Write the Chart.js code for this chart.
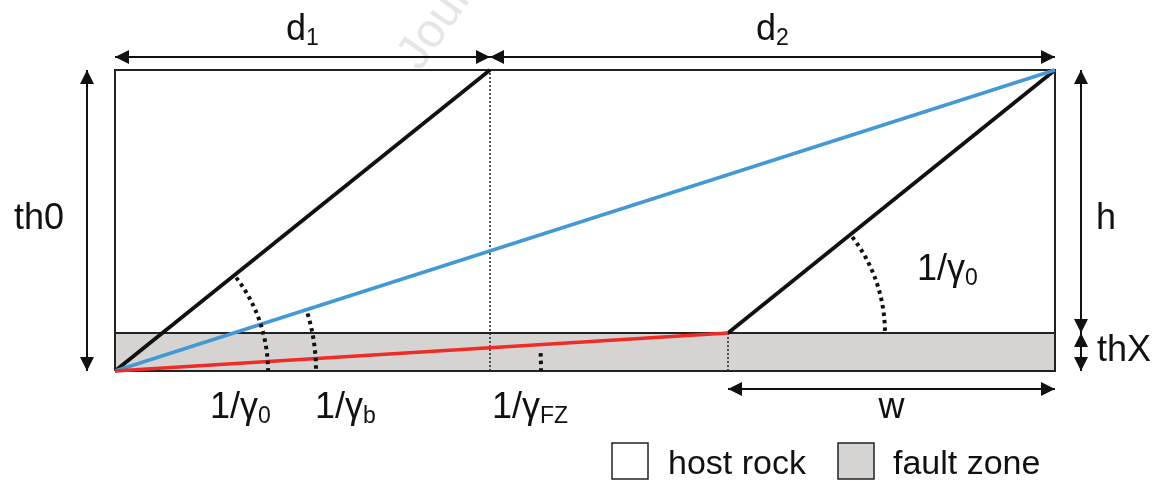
<!DOCTYPE html>
<html>
<head>
<meta charset="utf-8">
<script src="https://cdn.jsdelivr.net/npm/chart.js@4.4.1/dist/chart.umd.min.js"></script>
<style>
  html, body { margin: 0; padding: 0; background: #fff; }
  #wrap { width: 1162px; height: 481px; position: relative; }
</style>
</head>
<body>
<div id="wrap"><canvas id="sketch"></canvas></div>
<script>
// geometry (in pixel-like units)
var spanNames = ['d1', 'd2'];
var spans = [375, 565];            // d1, d2
var layerNames = ['thX', 'h'];
var layers = [38, 263];            // fault zone thickness, host rock thickness
var wLen = 327;                    // w
var arcRadius = [153, 201, 426, 157];   // 1/γ0, 1/γb, 1/γFZ, 1/γ0 (right)
var legendNames = ['host rock', 'fault zone'];

var total = spans[0] + spans[1];
var thX = layers[0];
var th0 = layers[0] + layers[1];
var kinkX = total - wLen;

var FONT = '"Liberation Sans", Arial, sans-serif';
var GRAY = '#d5d4d2';
var BLUE = '#4499d4';
var RED = '#ee2b26';
var INK = '#111';

function seg(pts, color, width, order, dash) {
  return {
    data: pts,
    showLine: true,
    borderColor: color,
    borderWidth: width,
    borderDash: dash || [],
    pointRadius: 0,
    fill: false,
    clip: false,
    order: order
  };
}

var datasets = [
  // red, blue, black lines on top
  seg([{x: 0, y: 0}, {x: kinkX, y: thX}], RED, 3.5, 1),
  seg([{x: 0, y: 0}, {x: total, y: th0}], BLUE, 3.5, 2),
  seg([{x: 0, y: 0}, {x: spans[0], y: th0}], INK, 3.8, 3),
  seg([{x: kinkX, y: thX}, {x: total, y: th0}], INK, 3.8, 3),
  // dotted guides
  seg([{x: spans[0], y: 0}, {x: spans[0], y: th0}], '#222', 1.5, 5, [2, 2]),
  seg([{x: kinkX, y: 0}, {x: kinkX, y: thX}], '#222', 1.5, 5, [2, 2]),
  // box outline and fault zone top
  seg([{x: 0, y: 0}, {x: total, y: 0}, {x: total, y: th0}, {x: 0, y: th0}, {x: 0, y: 0}], '#222', 2, 6),
  seg([{x: 0, y: thX}, {x: total, y: thX}], '#222', 2, 6),
  // fault zone fill
  {
    data: [{x: 0, y: 0}, {x: total, y: 0}],
    showLine: true,
    borderWidth: 0,
    borderColor: 'rgba(0,0,0,0)',
    backgroundColor: GRAY,
    pointRadius: 0,
    fill: {value: thX},
    clip: false,
    order: 10
  }
];

function arrowHead(ctx, x, y, ang) {
  var L = 14, W = 7;
  ctx.beginPath();
  ctx.moveTo(x, y);
  ctx.lineTo(x - L * Math.cos(ang) + W * Math.sin(ang), y - L * Math.sin(ang) - W * Math.cos(ang));
  ctx.lineTo(x - L * Math.cos(ang) - W * Math.sin(ang), y - L * Math.sin(ang) + W * Math.cos(ang));
  ctx.closePath();
  ctx.fill();
}

function dimArrow(ctx, x1, y1, x2, y2) {
  var ang = Math.atan2(y2 - y1, x2 - x1);
  ctx.beginPath();
  ctx.moveTo(x1, y1);
  ctx.lineTo(x2, y2);
  ctx.stroke();
  arrowHead(ctx, x2, y2, ang);
  arrowHead(ctx, x1, y1, ang + Math.PI);
}

function subText(ctx, main, sub, x, y, align, size) {
  size = size || 36;
  var subSize = Math.round(size * 0.64);
  ctx.font = size + 'px ' + FONT;
  var mw = ctx.measureText(main).width;
  ctx.font = subSize + 'px ' + FONT;
  var sw = sub ? ctx.measureText(sub).width : 0;
  var w = mw + sw;
  var left = align === 'center' ? x - w / 2 : (align === 'right' ? x - w : x);
  ctx.textAlign = 'left';
  ctx.textBaseline = 'alphabetic';
  ctx.font = size + 'px ' + FONT;
  ctx.fillText(main, left, y);
  if (sub) {
    ctx.font = subSize + 'px ' + FONT;
    ctx.fillText(sub, left + mw, y + 5);
  }
}

var sketchPlugin = {
  id: 'sketch',
  beforeDraw: function(chart) {
    var ctx = chart.ctx;
    ctx.save();
    ctx.translate(420, 72);
    ctx.rotate(-55 * Math.PI / 180);
    ctx.font = '48px ' + FONT;
    ctx.fillStyle = '#e6e6e6';
    ctx.fillText('Journal Pre-proof', 0, 0);
    ctx.restore();
  },
  afterDatasetsDraw: function(chart) {
    var ctx = chart.ctx;
    var xs = chart.scales.x, ys = chart.scales.y;
    var px = function(v) { return xs.getPixelForValue(v); };
    var py = function(v) { return ys.getPixelForValue(v); };
    var unit = px(1) - px(0);

    // dotted angle arcs
    var arcs = [
      {cx: 0, cy: 0, tx: spans[0], ty: th0, r: arcRadius[0]},
      {cx: 0, cy: 0, tx: total, ty: th0, r: arcRadius[1]},
      {cx: 0, cy: 0, tx: kinkX, ty: thX, r: arcRadius[2]},
      {cx: kinkX, cy: thX, tx: total, ty: th0, r: arcRadius[3]}
    ];
    ctx.save();
    ctx.strokeStyle = INK;
    ctx.lineWidth = 4;
    ctx.setLineDash([3.5, 4]);
    arcs.forEach(function(a) {
      var cx = px(a.cx), cy = py(a.cy);
      var ang = Math.atan2(py(a.ty) - cy, px(a.tx) - cx);
      ctx.beginPath();
      ctx.arc(cx, cy, a.r * unit, ang + 0.02, 0);
      ctx.stroke();
    });
    ctx.restore();

    // dimension arrows
    ctx.save();
    ctx.strokeStyle = INK;
    ctx.fillStyle = INK;
    ctx.lineWidth = 2;
    var topY = py(th0) - 13;
    dimArrow(ctx, px(0), topY, px(spans[0]), topY);
    dimArrow(ctx, px(spans[0]), topY, px(total), topY);
    dimArrow(ctx, px(0) - 28, py(0), px(0) - 28, py(th0));
    dimArrow(ctx, px(total) + 26, py(thX), px(total) + 26, py(th0));
    dimArrow(ctx, px(total) + 26, py(thX), px(total) + 26, py(0));
    var wy = py(0) + 18;
    dimArrow(ctx, px(kinkX), wy, px(total), wy);

    // labels
    subText(ctx, 'd', '1', (px(0) + px(spans[0])) / 2, 40, 'center');
    subText(ctx, 'd', '2', (px(spans[0]) + px(total)) / 2, 40, 'center');
    subText(ctx, 'th0', '', 64, 229, 'right');
    subText(ctx, 'h', '', 1096, 229, 'left');
    subText(ctx, 'thX', '', 1097, 361, 'left');
    subText(ctx, 'w', '', (px(kinkX) + px(total)) / 2, 418, 'center');
    subText(ctx, '1/γ', '0', 210, 418, 'left');
    subText(ctx, '1/γ', 'b', 315, 418, 'left');
    subText(ctx, '1/γ', 'FZ', 492, 418, 'left');
    subText(ctx, '1/γ', '0', 917, 280, 'left');

    // legend
    ctx.lineWidth = 1.5;
    ctx.strokeStyle = '#222';
    ctx.fillStyle = '#fff';
    ctx.fillRect(612, 443, 36, 36);
    ctx.strokeRect(612, 443, 36, 36);
    ctx.fillStyle = GRAY;
    ctx.fillRect(838, 443, 36, 36);
    ctx.strokeRect(838, 443, 36, 36);
    ctx.fillStyle = INK;
    ctx.font = '34px ' + FONT;
    ctx.textAlign = 'left';
    ctx.fillText(legendNames[0], 668, 474);
    ctx.fillText(legendNames[1], 893, 474);
    ctx.restore();
  }
};

var ctx = document.getElementById('sketch').getContext('2d');
var sketch = new Chart(ctx, {
  type: 'scatter',
  data: { datasets: datasets },
  options: {
    responsive: true,
    maintainAspectRatio: false,
    animation: false,
    events: [],
    layout: { padding: { left: 115, right: 107, top: 70, bottom: 110 } },
    scales: {
      x: { type: 'linear', display: false, min: 0, max: total },
      y: { type: 'linear', display: false, min: 0, max: th0 }
    },
    plugins: {
      legend: { display: false },
      tooltip: { enabled: false }
    }
  },
  plugins: [sketchPlugin]
});
</script>
</body>
</html>
